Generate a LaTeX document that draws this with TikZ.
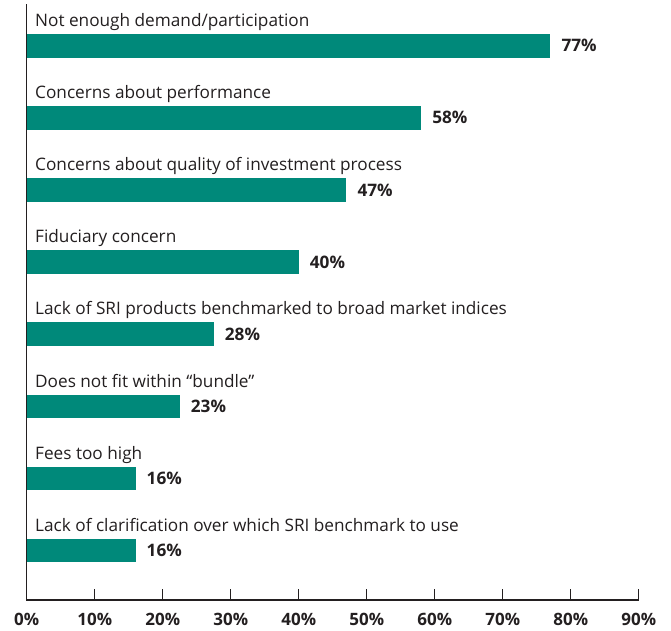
\documentclass[tikz,border=0pt]{standalone}
\usepackage{fontspec}
\setmainfont{Open Sans}
\definecolor{barTeal}{RGB}{0,137,122}
\definecolor{inkGray}{RGB}{35,31,32}

\begin{document}
\begin{tikzpicture}[x=1pt, y=-1pt, font=\fontsize{17.2}{20}\selectfont, text=inkGray,
  bar/.style={fill=barTeal},
  cat/.style={anchor=base west, inner sep=0pt},
  pct/.style={anchor=west, inner sep=0pt, font=\fontsize{17.2}{20}\selectfont\bfseries},
  tick/.style={font=\fontsize{17}{20}\selectfont\bfseries, inner sep=0pt}]
 \useasboundingbox (0,0) rectangle (671,630);
 % axes
 \draw[inkGray, line width=1.2pt] (26.7,4) -- (26.7,600) -- (638.7,600);
 \foreach \t/\lab in {0/0,1/10,2/20,3/30,4/40,5/50,6/60,7/70,8/80,9/90} {
   \ifnum\t>0 \draw[inkGray, line width=1.2pt] (26.7+68*\t,600) -- ++(0,-11); \fi
   \node[tick] (x\t) at (26.7+68*\t,619) {\lab\%};
 }
 % bars
 \foreach \v/\pct/\lab [count=\i from 0] in {
   77/77/{Not enough demand/participation},
   58/58/{Concerns about performance},
   47/47/{Concerns about quality of investment process},
   40/40/{Fiduciary concern},
   27.5/28/{Lack of SRI products benchmarked to broad market indices},
   22.5/23/{Does not fit within “bundle”},
   16/16/{Fees too high},
   16/16/{Lack of clarification over which SRI benchmark to use}} {
   \fill[bar] (26.7,34+72.1*\i) rectangle (26.7+6.8*\v,57.5+72.1*\i);
   \node[cat] (c\i) at (35,26.5+72.1*\i) {\lab};
   \node[pct] (p\i) at (26.7+6.8*\v+11,45.75+72.1*\i) {\pct\%};
 }
\end{tikzpicture}
\end{document}
